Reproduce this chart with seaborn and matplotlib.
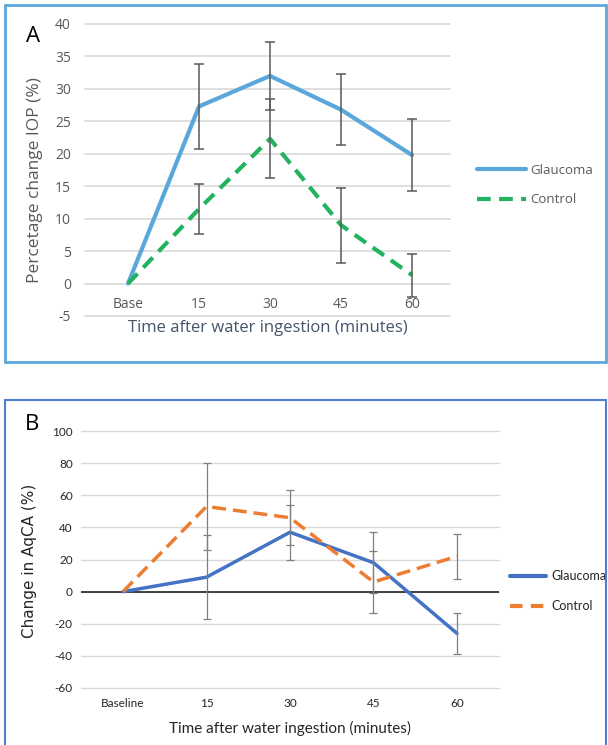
import numpy as np
import pandas as pd
import matplotlib
matplotlib.use("Agg")
import matplotlib.pyplot as plt
import seaborn as sns
from matplotlib.patches import Rectangle
from matplotlib.lines import Line2D

# Panel A - IOP
cats_a = ["Base", "15", "30", "45", "60"]
glaucoma_a = [0, 27.3, 32.0, 26.8, 19.8]
glaucoma_a_err = [0, 6.6, 5.2, 5.5, 5.5]
control_a = [0, 11.5, 22.3, 9.0, 1.3]
control_a_err = [0, 3.9, 6.1, 5.8, 3.3]

# Panel B - AqCA
cats_b = ["Baseline", "15", "30", "45", "60"]
glaucoma_b = [0, 9.0, 37.0, 18.0, -26.0]
glaucoma_b_err = [0, 26.0, 17.0, 19.0, 13.0]
control_b = [0, 53.0, 46.0, 6.0, 22.0]
control_b_err = [0, 27.0, 17.0, 19.0, 14.0]

sns.set_style("white")
plt.rcParams["font.family"] = ["Open Sans", "DejaVu Sans"]
plt.rcParams["axes.unicode_minus"] = False
font_b = ["Lato", "DejaVu Sans"]

W, H = 608, 745
fig = plt.figure(figsize=(W / 100, H / 100), dpi=100)


def px_axes(left, top, right, bottom):
    return fig.add_axes([left / W, 1 - bottom / H, (right - left) / W, (bottom - top) / H])


def long_df(cats, g, c):
    return pd.DataFrame({
        "pos": list(range(len(cats))) * 2,
        "value": g + c,
        "group": ["Glaucoma"] * len(cats) + ["Control"] * len(cats),
    })


# panel frames
fig.patches.append(Rectangle((5 / W, 1 - 362 / H), 601 / W, 357 / H, transform=fig.transFigure,
                             fill=False, edgecolor="#5BA8DC", linewidth=2))
fig.patches.append(Rectangle((5 / W, 1 - 760 / H), 601 / W, 360 / H, transform=fig.transFigure,
                             fill=False, edgecolor="#4F7FCF", linewidth=1.5))

# ---------- Panel A ----------
col_ga, col_ca = "#5AA7DC", "#22B35E"
ax = px_axes(85, 24, 450, 316)
df_a = long_df(cats_a, glaucoma_a, control_a)
sns.lineplot(data=df_a, x="pos", y="value", hue="group", style="group",
             palette={"Glaucoma": col_ga, "Control": col_ca},
             dashes={"Glaucoma": "", "Control": (3.3, 2.0)},
             linewidth=3, legend=False, ax=ax, zorder=3)
x = np.arange(len(cats_a))
ax.errorbar(x[1:], glaucoma_a[1:], yerr=glaucoma_a_err[1:], fmt="none",
            ecolor="#595959", elinewidth=1.1, capsize=3.5, capthick=1.1, zorder=4)
ax.errorbar(x[1:], control_a[1:], yerr=control_a_err[1:], fmt="none",
            ecolor="#595959", elinewidth=1.1, capsize=3.5, capthick=1.1, zorder=4)
ax.set_xlim(-0.606, 4.535)
ax.set_ylim(-5, 40)
ax.set_yticks(range(-5, 41, 5))
ax.set_xticks(x)
ax.set_xticklabels(cats_a)
ax.grid(axis="y", color="#D9D9D9", linewidth=1.2)
for gl in ax.get_ygridlines():
    gl.set_clip_on(False)
for s in ax.spines.values():
    s.set_visible(False)
ax.spines["bottom"].set_position(("data", 0))
ax.tick_params(axis="both", length=0, colors="#595959", labelsize=10)
ax.tick_params(axis="x", pad=10)
ax.tick_params(axis="y", pad=10)
ax.set_xlabel("")
ax.set_ylabel("")
fig.text(268 / W, 1 - 328 / H, "Time after water ingestion (minutes)", ha="center", va="center",
         fontsize=12, color="#44546A")
fig.text(35 / W, 1 - 180 / H, "Percetage change IOP (%)", ha="center", va="center",
         rotation=90, fontsize=12.5, color="#595959")
fig.text(33 / W, 1 - 36 / H, "A", ha="center", va="center", fontsize=16, color="black")
ax.legend([Line2D([], [], color=col_ga, lw=3),
           Line2D([], [], color=col_ca, lw=3, dashes=(3.3, 2.0))],
          ["Glaucoma", "Control"], loc="upper left",
          bbox_to_anchor=(477 / W, 1 - 164 / H), bbox_transform=fig.transFigure,
          frameon=False, fontsize=9.5, handlelength=3.7, handletextpad=0.3,
          borderpad=0, borderaxespad=0, labelspacing=1.25, labelcolor="#595959")

# ---------- Panel B ----------
col_gb, col_cb = "#4472C4", "#ED7D31"
bx = px_axes(81, 431, 499, 688)
df_b = long_df(cats_b, glaucoma_b, control_b)
sns.lineplot(data=df_b, x="pos", y="value", hue="group", style="group",
             palette={"Glaucoma": col_gb, "Control": col_cb},
             dashes={"Glaucoma": "", "Control": (4, 2)},
             linewidth=2.5, legend=False, ax=bx, zorder=3)
xb = np.arange(len(cats_b))
bx.errorbar(xb[1:], glaucoma_b[1:], yerr=glaucoma_b_err[1:], fmt="none",
            ecolor="#7F7F7F", elinewidth=0.9, capsize=3, capthick=0.9, zorder=4)
bx.errorbar(xb[1:], control_b[1:], yerr=control_b_err[1:], fmt="none",
            ecolor="#7F7F7F", elinewidth=0.9, capsize=3, capthick=0.9, zorder=4)
bx.axhline(0, color="#404040", linewidth=1.4, zorder=2)
bx.set_xlim(-0.503, 4.503)
bx.set_ylim(-60, 100)
bx.set_yticks(range(-60, 101, 20))
bx.set_xticks(xb)
bx.set_xticklabels(cats_b)
bx.grid(axis="y", color="#D9D9D9", linewidth=1.0)
for gl in bx.get_ygridlines():
    gl.set_clip_on(False)
for s in bx.spines.values():
    s.set_visible(False)
bx.tick_params(axis="both", length=0, colors="#262626", labelsize=8.5)
bx.tick_params(axis="x", pad=7)
bx.tick_params(axis="y", pad=6)
for lab in bx.get_xticklabels() + bx.get_yticklabels():
    lab.set_family(font_b)
bx.set_xlabel("")
bx.set_ylabel("")
fig.text(290 / W, 1 - 728 / H, "Time after water ingestion (minutes)", ha="center", va="center",
         fontsize=11, color="#262626", family=font_b)
fig.text(30 / W, 1 - 561 / H, "Change in AqCA (%)", ha="center", va="center",
         rotation=90, fontsize=11, color="#262626", family=["DejaVu Sans"])
fig.text(32 / W, 1 - 424 / H, "B", ha="center", va="center", fontsize=16, color="black")
leg = bx.legend([Line2D([], [], color=col_gb, lw=3),
                 Line2D([], [], color=col_cb, lw=3, dashes=(3, 2))],
                ["Glaucoma", "Control"], loc="upper left",
                bbox_to_anchor=(510 / W, 1 - 570 / H), bbox_transform=fig.transFigure,
                frameon=False, fontsize=9, handlelength=2.9, handletextpad=0.4,
                borderpad=0, borderaxespad=0, labelspacing=1.45, labelcolor="#262626")
for t in leg.get_texts():
    t.set_family(font_b)

fig.savefig("out.png", dpi=100)
